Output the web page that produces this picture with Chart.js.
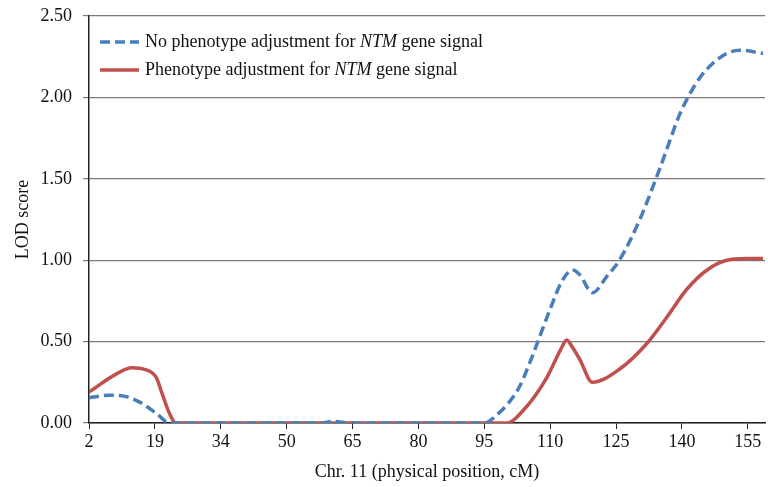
<!DOCTYPE html>
<html>
<head>
<meta charset="utf-8">
<script src="https://cdn.jsdelivr.net/npm/chart.js@4"></script>
<style>
  html, body { margin: 0; padding: 0; background: #fff; }
  #wrap { width: 768px; height: 487px; }
</style>
</head>
<body>
<div id="wrap"><canvas id="grafico" width="768" height="487"></canvas></div>
<script>
// x values are in tick units: 0 = first label, 1 = second label, ...
const tickLabels = ["2", "19", "34", "50", "65", "80", "95", "110", "125", "140", "155"];
const yTicks = [0, 0.5, 1, 1.5, 2, 2.5];

const noAdjX = [0, 0.30, 0.53, 0.76, 1.02, 1.22, 3.50, 3.72, 3.95, 6.00, 6.19, 6.38, 6.53, 6.69, 6.99, 7.19, 7.34, 7.45, 7.64, 7.86, 8.05, 8.36, 8.66, 8.97, 9.09, 9.27, 9.47, 9.68, 9.88, 10.23];
const noAdjY = [0.155, 0.17, 0.165, 0.13, 0.06, 0, 0, 0.01, 0, 0, 0.05, 0.13, 0.22, 0.37, 0.69, 0.88, 0.94, 0.91, 0.80, 0.90, 1.00, 1.25, 1.56, 1.90, 2.00, 2.12, 2.21, 2.27, 2.29, 2.27];

const adjX = [0, 0.41, 0.65, 0.84, 1.02, 1.11, 1.22, 1.32, 6.33, 6.64, 6.95, 7.17, 7.25, 7.33, 7.45, 7.64, 8.05, 8.47, 8.77, 9.07, 9.38, 9.68, 9.98, 10.23];
const adjY = [0.19, 0.30, 0.34, 0.33, 0.28, 0.18, 0.06, 0, 0, 0.10, 0.28, 0.46, 0.51, 0.47, 0.39, 0.25, 0.33, 0.49, 0.65, 0.82, 0.94, 1.00, 1.01, 1.01];

const blue = '#4a7ebb';
const red = '#c0504d';
const serif = '"Liberation Serif", "Times New Roman", serif';

const toPoints = (xs, ys) => xs.map((x, i) => ({ x: x, y: ys[i] }));

// legend with italic gene name, drawn inside the plot
const legendPlugin = {
    id: 'legendaInterna',
    afterDraw(chart) {
        const ctx = chart.ctx;
        const rows = [
            { color: blue, dash: [10, 5], y: 42, parts: ["No phenotype adjustment for ", "NTM", " gene signal"] },
            { color: red, dash: [], y: 70, parts: ["Phenotype adjustment for ", "NTM", " gene signal"] }
        ];
        ctx.save();
        rows.forEach(r => {
            ctx.strokeStyle = r.color;
            ctx.lineWidth = 3.5;
            ctx.setLineDash(r.dash);
            ctx.beginPath();
            ctx.moveTo(100, r.y);
            ctx.lineTo(139, r.y);
            ctx.stroke();
            ctx.setLineDash([]);
            let x = 145;
            ctx.fillStyle = '#111';
            ctx.textBaseline = 'middle';
            r.parts.forEach((p, i) => {
                ctx.font = (i === 1 ? 'italic ' : '') + '18px ' + serif;
                ctx.fillText(p, x, r.y);
                x += ctx.measureText(p).width;
            });
        });
        ctx.restore();
    }
};

new Chart(document.getElementById('grafico'), {
    type: 'line',
    data: {
        datasets: [
            {
                label: 'No phenotype adjustment for NTM gene signal',
                data: toPoints(noAdjX, noAdjY),
                borderColor: blue,
                borderWidth: 3.5,
                borderDash: [10, 5],
                pointRadius: 0,
                cubicInterpolationMode: 'monotone'
            },
            {
                label: 'Phenotype adjustment for NTM gene signal',
                data: toPoints(adjX, adjY),
                borderColor: red,
                borderWidth: 3.5,
                pointRadius: 0,
                cubicInterpolationMode: 'monotone'
            }
        ]
    },
    options: {
        responsive: false,
        animation: false,
        layout: { padding: { top: 16, right: 3, left: 0, bottom: 0 } },
        plugins: {
            legend: { display: false },
            tooltip: { enabled: false }
        },
        scales: {
            x: {
                type: 'linear',
                min: 0,
                max: 10.26,
                afterFit: s => { s.height = 64; s.paddingLeft = 0; s.paddingRight = 0; },
                ticks: {
                    stepSize: 1,
                    includeBounds: false,
                    autoSkip: false,
                    maxRotation: 0,
                    color: '#111',
                    font: { family: serif, size: 18 },
                    padding: 2,
                    callback: v => tickLabels[Math.round(v)] ?? ''
                },
                grid: { drawOnChartArea: false, color: '#222', tickLength: 6 },
                border: { color: '#222', width: 1.5 },
                title: {
                    display: true,
                    text: 'Chr. 11 (physical position, cM)',
                    color: '#111',
                    font: { family: serif, size: 18 },
                    padding: { top: 0 }
                }
            },
            y: {
                min: 0,
                max: 2.5,
                afterFit: s => { s.width = 89; s.paddingTop = 0; s.paddingBottom = 0; },
                afterBuildTicks: s => { s.ticks = yTicks.map(v => ({ value: v })); },
                ticks: {
                    color: '#111',
                    font: { family: serif, size: 18 },
                    padding: 11,
                    callback: v => v.toFixed(2)
                },
                grid: { color: '#7a7a7a', lineWidth: 1.2, tickLength: 6 },
                border: { color: '#222', width: 1.5 },
                title: {
                    display: true,
                    text: 'LOD score',
                    color: '#111',
                    font: { family: serif, size: 18 },
                    padding: { top: 12, bottom: 0 }
                }
            }
        }
    },
    plugins: [legendPlugin]
});
</script>
</body>
</html>
